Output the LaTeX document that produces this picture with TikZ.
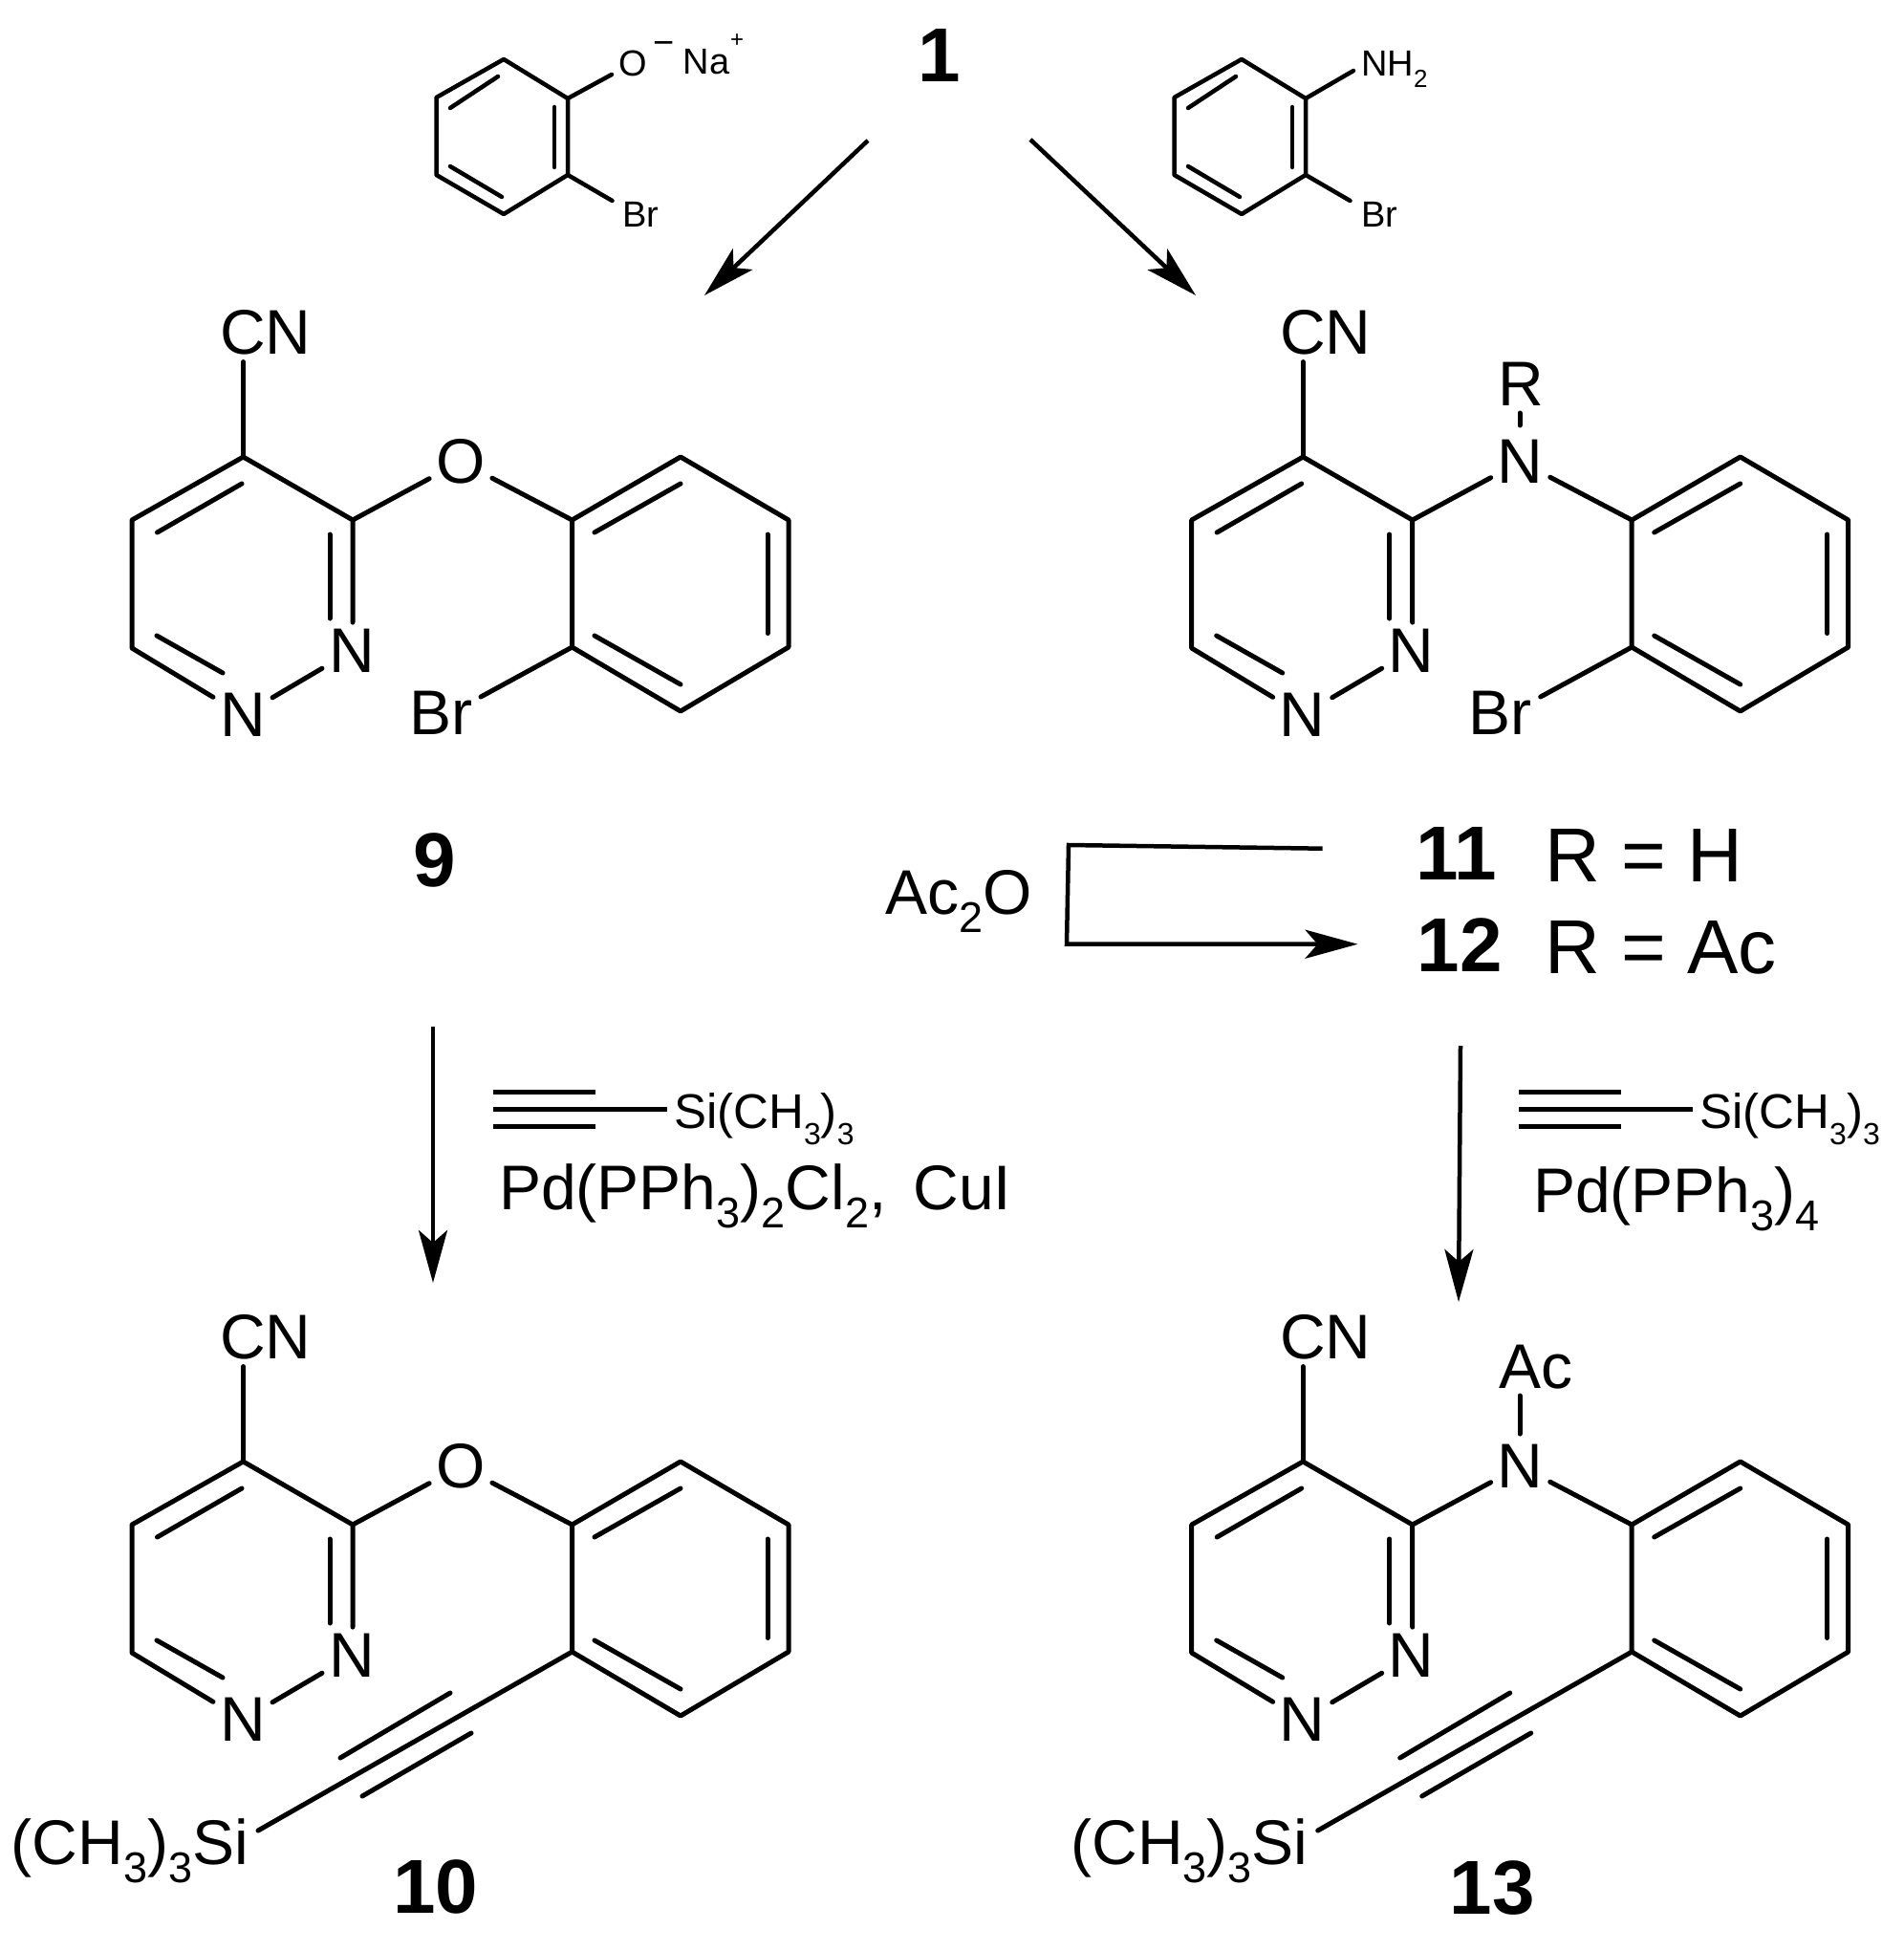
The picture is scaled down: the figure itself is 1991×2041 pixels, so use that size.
\documentclass[tikz,border=0pt]{standalone}
\usepackage{fontspec}
\setmainfont{Liberation Sans}
\usetikzlibrary{arrows.meta}
\newcommand\fA{\fontsize{66}{66}\selectfont}
\newcommand\fB{\fontsize{80}{80}\selectfont}
\newcommand\fBb{\fontsize{80}{80}\selectfont\bfseries}
\newcommand\fC{\fontsize{51}{51}\selectfont}
\newcommand\fD{\fontsize{38}{38}\selectfont}
\newcommand\lowA[1]{\raisebox{-19pt}{\fontsize{45}{45}\selectfont #1}}
\newcommand\lowC[1]{\raisebox{-17pt}{\fontsize{32}{32}\selectfont #1}}
\newcommand\lowD[1]{\raisebox{-12pt}{\fontsize{26}{26}\selectfont #1}}
\tikzset{
  bond/.style={line width=5pt,line cap=round,line join=round},
  thinbond/.style={line width=4.5pt,line cap=round,line join=round},
  atom/.style={inner sep=7pt,font=\fA},
  smallatom/.style={inner sep=3pt,font=\fD},
  plain/.style={inner sep=0pt,font=\fA},
  numlabel/.style={inner sep=0pt,font=\fBb},
  rlabel/.style={inner sep=0pt,font=\fB,anchor=base west},
  rxn/.style={line width=4.5pt,line join=miter,-{Stealth[length=55pt,width=30pt,inset=13pt]}},
}
% pyridazine + benzene skeleton: prefix, dx, dy, bridge atom
\newcommand\molcore[4]{%
 \begin{scope}[shift={(#2,#3)}]
  \coordinate (#1c4) at (254.5,478);
  \coordinate (#1c3) at (369,544);
  \coordinate (#1c5) at (138,544);
  \coordinate (#1c6) at (138,678);
  \coordinate (#1a1) at (598.5,544);
  \coordinate (#1a2) at (598.5,677);
  \coordinate (#1a3) at (712,744);
  \coordinate (#1a4) at (825,677);
  \coordinate (#1a5) at (825,544);
  \coordinate (#1a6) at (712,478);
  \node[atom] (#1cn) at (278,348) {CN};
  \node[atom] (#1n1) at (254,748) {N};
  \node[atom] (#1n2) at (368,681) {N};
  \node[atom] (#1x) at (482,483) {#4};
  \draw[bond] (#1c4) -- (#1c4 |- #1cn.south);
  \draw[bond] (#1n1) -- (#1c6) -- (#1c5) -- (#1c4) -- (#1c3) -- (#1c3 |- #1n2.north);
  \draw[bond] (#1n1) -- (#1n2);
  \draw[bond] (#1c3) -- (#1x);
  \draw[bond] (#1x) -- (#1a1);
  \draw[bond] (#1a1) -- (#1a2) -- (#1a3) -- (#1a4) -- (#1a5) -- (#1a6) -- cycle;
  \draw[bond] (253,506) -- (164.5,557);
  \draw[bond] (164,665) -- (233,704);
  \draw[bond] (345,559) -- (345,647);
  \draw[bond] (622,557) -- (712,506);
  \draw[bond] (803,559) -- (803,662.5);
  \draw[bond] (712,716) -- (622,665);
 \end{scope}}
% aryl bromide substituent
\newcommand\brsub[3]{%
 \begin{scope}[shift={(#2,#3)}]
  \node[atom] (#1br) at (461,746) {Br};
  \coordinate (#1bre) at (503,729);
  \draw[bond] (#1a2) -- (#1bre);
 \end{scope}}
% trimethylsilyl alkyne substituent
\newcommand\alksub[3]{%
 \begin{scope}[shift={(#2,#3)}]
  \node[plain,anchor=base east] (#1si) at (260,899) {(CH\lowA{3})\lowA{3}Si};
  \coordinate (#1sie) at (270,864);
  \draw[bond] (#1a2) -- (#1sie);
  \draw[bond] (471,720) -- (356,788);
  \draw[bond] (493,762) -- (379,828);
 \end{scope}}
% small bromoarene reagent ring
\newcommand\smallring[3]{%
 \begin{scope}[shift={(#2,#3)}]
  \coordinate (#1r1) at (527,62);
  \coordinate (#1r2) at (594,103);
  \coordinate (#1r3) at (594,183);
  \coordinate (#1r4) at (527,224);
  \coordinate (#1r5) at (456.5,183);
  \coordinate (#1r6) at (456.5,102);
  \draw[thinbond] (#1r1) -- (#1r2) -- (#1r3) -- (#1r4) -- (#1r5) -- (#1r6) -- cycle;
  \draw[thinbond] (580,112) -- (580,175);
  \draw[thinbond] (521,80) -- (471,113);
  \draw[thinbond] (471,174) -- (525,206);
 \end{scope}}
% silylacetylene reagent
\newcommand\silyne[3]{%
 \begin{scope}[shift={(#2,#3)}]
  \node[inner sep=0pt,font=\fC,anchor=base west] (#1t) at (1778,1180) {Si(CH\lowC{3})\lowC{3}};
  \coordinate (#1a) at (1589,1160);
  \coordinate (#1b) at (1771,1160);
  \draw[line width=5pt] (#1a) -- (#1b);
  \draw[line width=5pt] (1589,1142) -- (1696,1142);
  \draw[line width=5pt] (1589,1178) -- (1696,1178);
 \end{scope}}
\begin{document}
\begin{tikzpicture}[x=1pt,y=-1pt]
\useasboundingbox (0,0) rectangle (1991,2041);
\fill[white] (0,0) rectangle (1991,2041);

% molecules
\molcore{p}{0}{0}{O}
\brsub{p}{0}{0}
\molcore{q}{1108.7}{0}{N}
\brsub{q}{1108.7}{0}
\molcore{s}{0}{1051}{O}
\alksub{s}{0}{1051}
\molcore{t}{1108.7}{1051}{N}
\alksub{t}{1108.7}{1051}

\node[plain] (qr) at (1591,402) {R};
\coordinate (qra) at (1590,432);
\coordinate (qrb) at (1590,445);
\draw[bond] (qra) -- (qrb);
\node[plain] (tac) at (1607,1430) {Ac};
\coordinate (taca) at (1590,1460);
\coordinate (tacb) at (1590,1500);
\draw[bond] (taca) -- (tacb);

% top reagents
\smallring{u}{0}{0}
\node[smallatom,inner sep=7pt] (uo) at (662,66) {O};
\node[inner sep=0pt,font=\fontsize{38}{38}\selectfont] (um) at (695,51) {−};
\node[inner sep=0pt,font=\fD] (una) at (739,65) {Na};
\node[inner sep=0pt,font=\fontsize{24}{24}\selectfont] (upl) at (771,43) {+};
\node[smallatom] (ubr) at (670,224) {Br};
\coordinate (ubre) at (640.5,210);
\draw[thinbond] (ur2) -- (uo);
\draw[thinbond] (ur3) -- (ubre);

\smallring{v}{772}{0}
\node[inner sep=0pt,font=\fD,anchor=base west] (vn) at (1424,80) {NH\lowD{2}};
\coordinate (vne) at (1416,74);
\node[smallatom] (vbr) at (1443,224) {Br};
\coordinate (vbre) at (1412.5,210);
\draw[thinbond] (vr2) -- (vne);
\draw[thinbond] (vr3) -- (vbre);

% compound numbers
\node[numlabel] (n1) at (983,58) {1};
\node[numlabel] (n9) at (455,900) {9};
\node[numlabel] (n10) at (456,1974) {10};
\node[numlabel] (n13) at (1561,1975) {13};
\node[numlabel] (n11) at (1524,893) {11};
\node[numlabel] (n12) at (1527,989) {12};
\node[rlabel] (rh) at (1616,922) {R = H};
\node[rlabel] (rac) at (1616,1018) {R = Ac};

% arrows
\coordinate (a1s) at (908,147);
\coordinate (a1e) at (737,309);
\coordinate (a2s) at (1078,146);
\coordinate (a2e) at (1251,309);
\draw[rxn] (a1s) -- (a1e);
\draw[rxn] (a2s) -- (a2e);

\coordinate (b1) at (1383.6,887.7);
\coordinate (b2) at (1118,884);
\coordinate (b3) at (1116,987.7);
\coordinate (b4) at (1420.5,987.7);
\draw[rxn] (b1) -- (b2) -- (b3) -- (b4);
\node[plain,anchor=base west] (ac2o) at (926,956) {Ac\lowA{2}O};

\coordinate (c1) at (453,1074);
\coordinate (c2) at (453,1342);
\draw[rxn] (c1) -- (c2);
\coordinate (d1) at (1528,1094);
\coordinate (d2) at (1526,1362);
\draw[rxn] (d1) -- (d2);

% reaction conditions
\silyne{sa}{-1073}{0}
\silyne{sb}{0}{0}
\node[plain,anchor=base west] (pd1) at (522,1265) {Pd(PPh\lowA{3})\lowA{2}Cl\lowA{2},\hspace{28pt}CuI};
\node[plain,anchor=base west] (pd2) at (1604,1268) {Pd(PPh\lowA{3})\lowA{4}};
\end{tikzpicture}
\end{document}
